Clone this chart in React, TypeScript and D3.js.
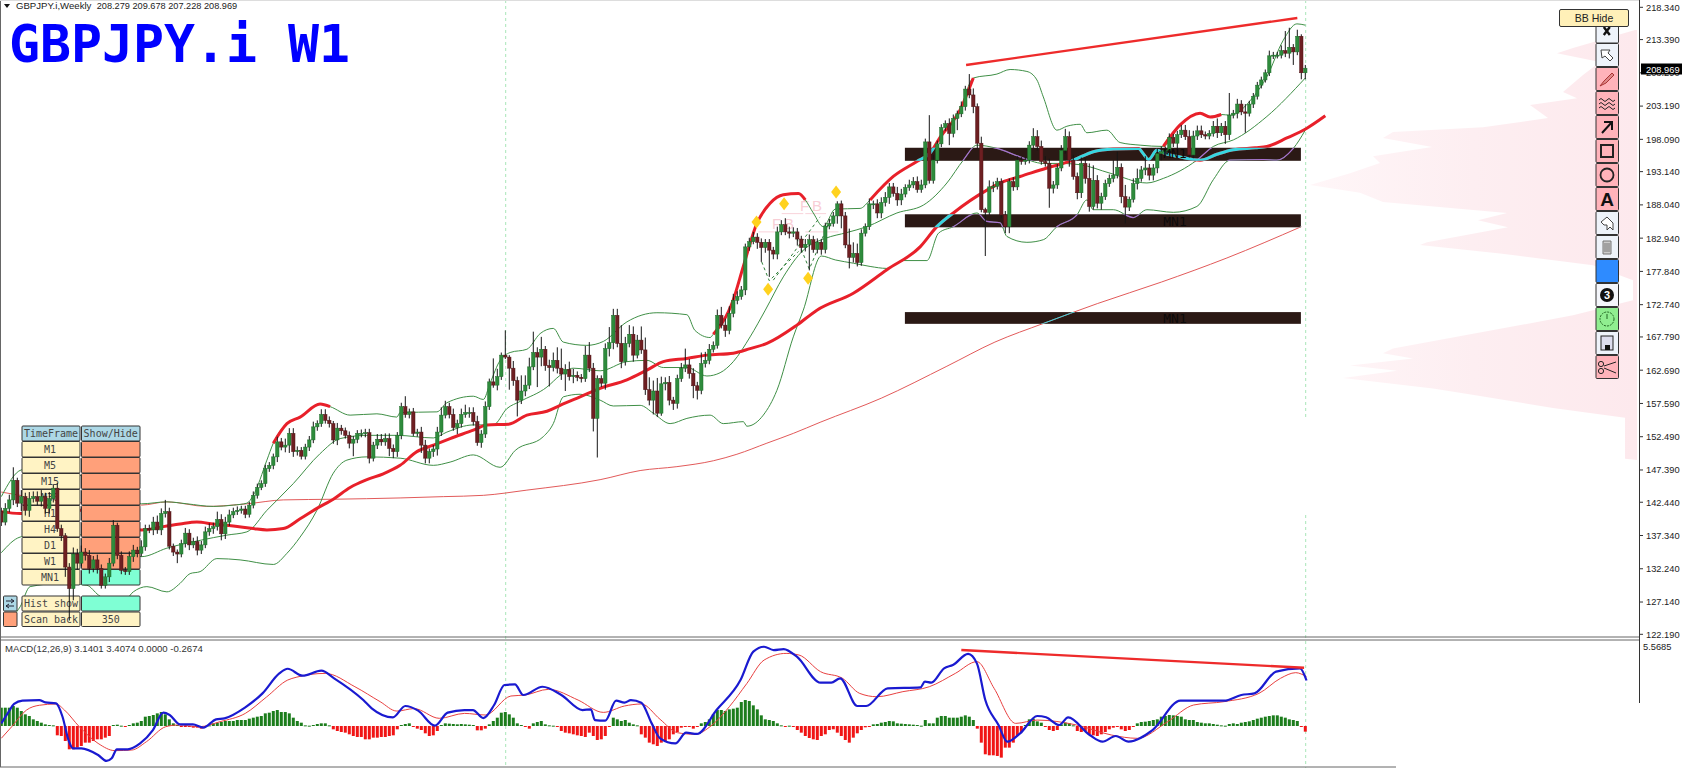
import React from "react";
import * as d3 from "d3";

const closes = [
139.4,141.5,142.8,145.8,142.3,143.3,141.2,143.0,143.3,142.6,
143.3,141.5,143.0,144.6,138.4,137.3,132.5,129.2,134.5,133.1,
134.8,134.3,132.3,133.6,132.3,129.7,131.0,133.1,138.9,134.3,
132.0,131.8,134.1,135.1,134.6,135.6,138.4,138.2,139.4,138.2,
140.7,141.0,135.7,134.8,134.5,136.1,137.7,135.9,136.4,135.1,
135.9,137.9,138.4,138.7,139.8,137.6,139.4,140.5,141.0,141.2,
141.4,140.6,142.0,143.5,144.7,145.3,147.6,148.1,149.4,151.7,
150.9,151.2,153.0,150.2,150.4,149.5,150.9,152.0,154.0,154.5,
155.9,155.0,154.5,152.0,153.8,153.4,152.7,151.5,152.1,153.0,
153.0,153.1,149.2,151.2,152.1,151.7,152.2,150.7,150.2,152.7,
157.1,155.9,156.3,153.0,153.2,
151.2,149.2,150.2,150.6,153.2,155.8,157.1,155.9,153.9,154.5,
155.9,156.2,156.2,154.8,151.6,152.9,157.1,160.9,160.4,161.7,
165.0,164.7,163.0,161.1,158.1,159.5,160.4,163.2,165.4,164.7,
165.9,163.4,163.1,164.2,163.0,162.1,162.8,161.7,161.9,161.6,
161.4,165.0,163.0,155.3,161.4,160.7,166.0,166.9,171.1,166.8,
164.0,166.8,168.2,165.0,167.3,165.8,159.7,158.1,159.5,156.1,
160.6,160.8,158.1,157.6,161.4,163.0,163.5,162.2,160.3,159.6,
163.7,164.2,165.9,166.5,171.1,169.6,168.8,171.4,173.4,174.0,
175.0,181.6,182.4,183.1,182.3,181.5,182.3,181.1,180.5,183.9,
185.0,183.9,183.7,183.9,182.8,181.5,182.0,182.7,181.2,182.3,
181.2,184.8,185.2,186.35,188.2,186.35,181.9,180.0,180.6,179.2,
183.7,184.7,188.2,188.2,186.8,188.4,189.2,190.8,189.8,188.8,
189.7,190.7,191.1,191.6,190.4,191.1,197.7,191.8,194.9,197.4,
199.9,200.5,199.0,201.3,202.0,203.1,205.8,204.9,203.1,197.5,
187.3,186.9,190.8,190.9,191.6,186.5,184.7,191.6,190.8,194.9,
194.7,194.9,197.2,198.5,197.0,194.7,194.4,190.6,191.1,193.7,
196.4,198.5,194.9,192.4,189.9,194.4,192.1,187.8,191.8,188.3,
189.3,191.3,192.1,192.6,193.8,189.3,187.7,188.9,191.3,192.1,
193.4,193.7,192.6,193.7,195.9,196.2,196.4,198.4,197.5,198.8,
199.5,198.5,195.7,198.6,199.4,198.8,198.6,199.0,200.1,199.1,
200.1,198.8,201.8,202.1,203.5,202.3,202.1,203.5,204.7,206.4,
207.2,208.3,210.9,211.0,211.0,211.7,211.3,212.2,211.5,213.9,
208.3,209.0];

const upperWicks = [
.6,.8,.8,2.0,.4,1.0,.6,1.0,.8,.8, 1.0,.6,1.0,.6,.8,.6,.4,.6,1.0,.8,
1.0,.6,.8,.6,.8,.6,.5,.8,.8,.4, .6,.5,.8,.8,.5,1.0,.6,.6,.8,1.0,
.8,1.8,.6,.4,.4,.6,.8,.6,.6,.8, .6,.8,.8,.6,1.2,.8,.8,.8,.6,.6,
.5,.5,.5,.6,.6,.5,.6,.5,.5,.8,.6, 1.0,.8,.8,.6,.5,.5,.6,.8,.5,.8,
.8,.6,.4,.8,.5,.5,.6,.5,.5,.6, .6,.6,.5,.8,.8,.8,.8,.6,.5,.6,
1.6,.5,.6,.5,.8,.8,.5,.6,.8,1.2, .9,.6,.9,.6,.9,1.2,.8,.8,.9,.6,
.8,.5,3.6,1.2,.4,3.8,.3,1.1,.6,2.4, 1.5,1.4,3.2,.8,1.9,.5,.9,1.2,2.0,3.0,
.8,1.2,1.0,.6,.5,1.4,2.0,.8,.5,.5, .8,2.4,1.0,1.0,2.8,1.0,1.4,1.2,.8,2.1,
1.9,1.9,1.6,2.0,1.1,.8,1.0,.5,.6,.8, 2.5,.9,.8,.6,1.7,1.3,.8,.6,.9,1.3,
1.0,1.1,1.0,.8,.6,.5,.6,.8,.6,.6, .5,.5,.5,.8,.7,1.0,.8,.7,.6,.5,
.8,.8,.6,.6,.5,.5,.7,.6,.4,.5, .6,2.5,1.7,1.5,.6,.5,.8,.5,.7,.8,
.8,.6,.6,1.0,.8,.5,.8,.7,.8,.8, .5,4.1,.8,.5,.5,.5,.8,.6,.5,.8,
.5,2.3,1.0,.5,1.0,.3,1.0,.7,.6,.5, .6,.5,.7,.6,.5,.5,.6,1.3,1.0,.9,
.8,.7,.6,.6,.8,1.2,.8,.8,.6,.9, .8,2.3,2.3,.8,.6,.6,.6,2.3,2.4,.6,
1.8,.4,.8,1.5,.6,1.8,.6,.6,.8,.8, .6,.6,.5,.6,.8,.8,1.0,.8,.8,.8,
.5,.5,.8,1.2,.5,.8,3.4,.5,.8,.6, 1.2,.5,.5,.5,.5,.5,.8,.5,.5,.8,
3.0,3.0,.5,1.0,.3,.5];

const lowerWicks = [
.6,.5,.6,.8,.6,1.2,.8,1.0,.6,.6, .8,.8,.8,.6,.5,.8,1.5,4.9,1.8,1.0,
.5,.8,.8,.6,.8,.5,.5,.8,.5,.6, .6,.5,.5,.8,.6,.5,.6,.5,.8,.6,
.8,.6,.5,.6,1.4,.5,.6,.8,.5,.8, .6,.5,.6,.8,.6,1.0,.8,.6,.5,.5,
.5,.6,.5,.5,.5,.4,.5,.5,.6,.8,.5, .8,1.2,.8,.6,.5,.5,.6,.5,.6,.5,
.5,.6,.6,.8,.6,.5,.8,2.0,.6,.6, .6,.8,.5,.6,.6,.6,1.2,1.0,.8,.6,
.5,.6,.4,.5,1.2,.8,.8,.8,1.0,.6, .5,.6,.5,1.0,.6,.5,.8,.6,.5,.8,
.6,.5,.4,.8,.5,.3,3.3,.8,2.5,.6, .8,.6,.5,4.6,1.4,.8,2.9,.6,.8,.9,
2.6,.6,1.0,.6,.6,.5,.6,2.0,6.0,.6, 1.0,1.2,1.0,.6,1.0,.6,.6,1.0,.5,.6,
.8,.8,2.2,.6,.4,1.0,.8,1.0,.8,.5, .6,.8,1.9,1.4,.6,.6,.6,.5,.5,.5,
1.0,.6,.6,.6,.5,.8,.6,.4,1.0,2.2, .8,4.1,.8,.8,.5,.5,.8,.6,1.0,.8,
.6,4.0,.5,.6,.8,.6,.5,.5,1.2,1.9, .5,1.7,.8,.6,.5,.5,.5,.8,.8,.8,
.6,1.0,.5,.9,.8,.5,.5,.5,.5,.5, .5,.5,.5,.5,.5,.5,1.8,.6,1.8,.5,
.6,.5,1.0,.8,.4,6.7,.4,.8,.5,.5, 1.0,1.0,.6,.5,.5,.5,.5,.5,.6,.5,
.5,3.0,.8,.6,.5,.5,1.0,.5,1.0,.8, .8,.8,.5,.8,1.0,.5,.5,.6,.5,1.0,
2.5,.6,.5,.9,.5,.8,.8,.8,.8,1.0, .8,.8,.6,1.0,.5,.5,.4,.5,.6,.5,
.5,.5,.5,.8,.5,1.4,.8,.5,.8,.5, 3.0,.5,.6,.5,.5,.4,.5,.5,.5,.5,
.6,.8,2.0,.5,1.0,1.0];

type P = [number, number];

const bbUpper: P[] = [[0,143.3],[5,147.4],[12,148],[20,146.5],[28,144],[35,142.2],[41.4,142.5],[46.4,142.2],[53,141.8],[58,142],[61.4,142.3],[63,143.5],[66.4,148.9],[68,151.5],[71.4,154.5],[74.7,155.5],[79.7,157.5],[82.2,157.1],[87.2,155.8],[93.9,156],[98.9,155.5],[99.7,156.2],[108.9,156.3],[111.4,157.7],[118,158.7],[120.5,158.2],[122.2,160.7],[124.7,164.2],[127.2,165.4],[131.4,165.9],[134.7,168.3],[138,169.1],[140.5,167],[146.4,166.5],[150.5,167.1],[156.4,170.1],[163.9,171.5],[171.4,171.2],[173.4,168.8],[177.2,167.7],[178,168.2],[183,173.5],[185.5,178.6],[188.9,185.2],[192.2,188.3],[195.5,189.6],[199.3,189.8],[201,188.8],[203,186.8],[205.5,184.7],[208.5,187.4],[214.7,187.5],[217.2,188.8],[223,192.4],[228.9,194.7],[232.2,196],[234.7,198.4],[239.7,202.6],[243,207.5],[248.9,208.1],[252.2,208.8],[256.4,208.5],[258.9,207.2],[260.5,204.6],[263.9,199.5],[266.4,200.1],[269.7,200.4],[271.4,199.1],[276.4,199.5],[279.7,197.6],[284.7,197.2],[290.5,197],[294.7,200.3],[299.7,202.1],[302.2,201.5],[305,201.9],[307.2,201.8],[313,204.6],[316.4,207.7],[320.5,213.3],[323.9,215.8],[326,215.6]];
const bbMiddle: P[] = [[0,134.7],[4.7,137.1],[15,138],[28,135.5],[35.1,134.1],[41.4,135.4],[49.7,136.6],[56.4,137.4],[61.4,137.9],[66.4,141.2],[73,145.3],[79.7,149.9],[84.7,152.2],[91.4,152.7],[98.9,152.7],[108,152.3],[111.4,153.2],[118,154.3],[123,154.3],[126.4,156.8],[129.7,157.9],[136.4,160.1],[139.7,161.9],[143,163],[149.7,162.6],[156.4,164],[161.4,164.2],[165.5,163.1],[171.4,163.1],[176.4,161.8],[179.7,162.3],[183,164],[187.2,167.8],[191,171.9],[195.5,177],[200.5,181.1],[206,182.9],[211.4,183.8],[216.4,184.7],[223.9,186.8],[230.5,188],[236.4,191.4],[240.5,194.9],[243.9,197.2],[248.9,196.7],[254.7,195.4],[260.5,194.4],[264.7,194.4],[269.7,194.2],[277.2,192.9],[286.4,191.4],[290.5,192.1],[298.9,194.9],[303,197],[308,198],[316.4,201.6],[326,207.5]];
const bbLower: P[] = [[3,125],[4.7,126.4],[7.2,129.5],[15,130],[21.4,129.7],[24.3,128.2],[30,126.8],[33,128.7],[36.4,129.5],[41.4,128.7],[44.7,130],[47.2,131.5],[49.7,131.8],[53.9,133.8],[59.7,133.6],[68,132.9],[71.4,134.6],[74.7,137.1],[78.9,141.2],[83,146.9],[86.4,148.9],[91.4,149.4],[99.7,149.2],[108,148.1],[112.2,148.6],[118,149.7],[124.7,147.8],[128.5,150.4],[135.5,152.5],[138,154.5],[140.5,158.6],[144.7,159],[149.7,158.1],[153,157.2],[159.7,157.3],[163,156.1],[167.2,154.5],[171.4,155.3],[177.2,155.8],[180.5,154.5],[185.5,154.8],[186.4,154.1],[190.5,155.8],[193.9,159.6],[198,167.8],[200.5,171.9],[205,180.2],[208.5,179.6],[213,179.1],[217.2,178.6],[221.4,178.3],[225.5,179.5],[231.4,179.5],[234.3,183.7],[238,184.7],[243.9,186.8],[246.4,185.5],[249.7,185.3],[251.4,183.2],[256.4,182.3],[260.5,182.7],[263.9,184.7],[268.9,186.5],[271.4,188.8],[273,187.3],[278,187.3],[283,186.1],[286.4,187.3],[293,186.9],[298.9,187.8],[303,191.9],[307.2,194.9],[315.5,195],[318.9,194.9],[323,196.7],[326,199.5]];
const bbUpperHeavy: P[] = [[68,82.2],[178,201],[217.2,243],[290.5,305]];

const maFast: P[] = [[0,141],[4.7,140.7],[20,141.2],[35.1,138.2],[41.4,138.8],[44.7,139.1],[48.9,139.4],[53,139.1],[58,138.8],[63,138.4],[66.4,138.2],[70.5,138.4],[74.7,139.9],[78.9,141.5],[83,142.9],[87.2,144.7],[91.4,145.9],[95.5,146.8],[99.7,148.1],[103.9,150.2],[108,151.2],[112.2,152.2],[118,153.5],[121.4,154.3],[126.8,154.4],[131.4,155.8],[136.4,156.4],[139.7,157.3],[144.7,158.6],[149.7,159.9],[156.4,161.2],[161.4,162.7],[165.5,164],[171.4,164.5],[176.4,165],[183,165.3],[187.2,166],[191.4,166.8],[198.9,169.6],[203.9,171.9],[213,174.5],[221.4,178.1],[229.7,181.6],[233.9,184.7],[238,186.8],[246.4,190.3],[250.5,191.6],[254.7,192.4],[261.4,193.7],[268,194.9],[273,196.2],[278,196.6],[284.3,196.7],[285.5,195.9],[286.8,195],[288.9,196.4],[291,195.9],[294.7,195.4],[299.7,194.9],[303.9,195.8],[308,196.5],[313.5,196.8],[316.4,197],[321.4,198.3],[326.4,199.8],[331,201.7]];
const maSlow: P[] = [[0,144],[4.7,143.5],[35,142],[41.4,142.5],[51.4,141.8],[61.4,142.2],[70.5,142.8],[83,142.9],[99.7,143.1],[110.5,143.3],[120.5,143.5],[131.4,144.3],[149.7,145.9],[159.7,147.3],[168.9,147.9],[178,148.8],[183.9,149.8],[191.4,151.5],[198,153],[204.7,154.7],[220,158.4],[236.4,163.3],[248.4,167],[260.7,169.9],[274,172.9],[290,176.2],[306.4,179.9],[325,184.7]];

const macdMain: P[] = [[0,.18],[1.6,.87],[3.2,1.52],[5.3,1.75],[9.5,1.79],[11,1.63],[13.7,1.56],[15.3,.64],[16.8,-.97],[17.9,-1.54],[20,-1.54],[24.2,-2],[26.3,-2.41],[27.6,-2.23],[28.9,-1.61],[31.6,-1.61],[34.7,-1.2],[37.9,-.28],[40.5,.92],[42.1,.76],[44.7,.11],[47.9,.11],[50.5,-.11],[53.7,.46],[55.8,.53],[61,1.29],[65.3,2.25],[69.5,3.63],[71.6,3.95],[75.3,3.47],[80,3.82],[83.2,3.29],[90.5,1.79],[92.6,1.22],[97.9,.6],[101,1.38],[104.2,1.06],[108.4,.02],[111.6,.92],[115.8,1.1],[117.9,1.1],[120.5,.55],[123.2,1.45],[125.8,2.83],[128.4,2.87],[130.5,2.14],[135.3,2.71],[140,2.14],[145.3,1.1],[147.4,1.15],[148.4,.41],[151,.37],[153.7,1.75],[155.8,1.61],[157.4,1.79],[160,1.61],[162.6,.18],[164.7,-.85],[168.5,-1.2],[171.2,-.46],[173.9,-.55],[178.8,1.1],[184.8,3.17],[188,5.13],[190.7,5.47],[193.1,5.24],[195.6,5.31],[198.9,4.78],[204.8,2.99],[207.5,2.99],[209.7,3.29],[214,1.38],[216.2,1.38],[221.6,2.6],[229.8,2.67],[230.9,3.06],[232.5,2.99],[235.7,3.98],[237.9,4.21],[241.7,4.97],[243.9,4.32],[246,1.79],[249.3,.07],[251.5,-1.08],[254.7,-.51],[259,.69],[261.2,.6],[264.5,.07],[266.7,.6],[272.1,-.62],[275.3,-1.08],[278.6,-.69],[281.8,-1.08],[287.8,-.28],[294.8,1.75],[299.2,1.75],[305.7,1.75],[310,2.14],[313.3,2.25],[318.7,3.75],[324.7,3.98],[326.3,3.14]];
const macdSignal: P[] = [[0,-.85],[2.6,-.05],[6.3,1.1],[9.5,1.43],[13.7,1.52],[15.8,1.1],[19.5,-.05],[24.2,-1.2],[28.4,-1.7],[32.6,-1.66],[36.3,-1.08],[41.1,-.05],[44.2,.07],[49.5,-.05],[54.7,.3],[61,.87],[66.3,2],[71.6,3.17],[73.7,3.36],[81,3.63],[88.4,2.71],[94.7,1.68],[98.9,1.03],[103.2,1.2],[109.5,.53],[115.8,.87],[121,.76],[127.4,2.07],[131,2.14],[136.8,2.53],[144.2,1.79],[150.5,.94],[155.8,1.38],[160,1.52],[164.7,.46],[169,-.46],[173.4,-.57],[177.7,.07],[182,1.33],[186.4,2.94],[190.7,4.55],[196.2,5.01],[199.4,4.9],[204.8,3.75],[210.3,3.29],[214.6,2.25],[218.9,2.02],[225.4,2.37],[232,2.71],[238.5,3.63],[243.9,4.44],[248.2,2.6],[253.6,.18],[259,.41],[268.8,.07],[277.5,-.62],[284,-.85],[291.6,.3],[298.1,1.45],[305.7,1.68],[314.4,2.25],[319.8,3.29],[323.6,3.68],[326.3,3.4]];
// histogram in hundredths
const macdHist = [
55,55,55,60,55,45,35,30,20,15, 10,5,3,2,-28,-30,-45,-70,-70,-65,
-60,-50,-50,-45,-40,-40,-35,-30,3,4, 1,-2,3,8,10,15,28,30,33,38,
42,35,20,8,3,-3,-3,-3,-5,-5, -8,-3,2,8,10,12,15,15,15,18,
18,18,22,25,28,30,38,40,45,48, 42,42,38,25,15,10,2,1,3,6,
8,8,2,-10,-15,-18,-20,-25,-30,-33, -33,-40,-40,-35,-35,-33,-33,-30,-28,-10,
3,6,8,-3,-8,-12,-22,-30,-28,-15, 3,8,7,6,5,6,5,4,3,-13,
-13,-8,5,15,25,40,42,35,25,8, 3,-3,-8,8,12,15,5,2,1,-3,
-15,-20,-22,-25,-28,-30,-33,-20,-30,-42, -40,-30,-3,25,20,15,18,10,5,2,
-25,-35,-50,-55,-60,-50,-45,-40,-25,-18, -5,-3,-3,-8,-3,8,12,20,35,48,
48,45,50,52,55,72,78,75,62,50, 32,20,18,15,8,2,-2,1,-1,-12,
-20,-30,-36,-40,-42,-30,-25,-12,-10,-20, -30,-42,-50,-35,-22,-12,-4,-1,5,6,
10,12,15,14,8,7,6,5,4,3, 1,18,8,8,25,30,30,25,25,25,
28,32,28,18,-8,-50,-85,-88,-88,-90, -95,-65,-65,-50,-30,-18,3,20,22,14,
10,-3,-12,-15,-12,5,10,8,2,-15, -18,-15,-25,-28,-30,-25,-18,-10,-5,-1,
-10,-15,-12,-3,8,12,13,15,18,20, 28,30,33,32,30,28,20,18,18,12,
10,8,8,6,4,2,1,6,8,6, 10,12,14,18,22,25,28,30,32,32,
28,25,20,18,15,-1,-17];

const priceLabels = ["218.340","213.390","208.290","203.190","198.090","193.140","188.040","182.940","177.840","172.740","167.790","162.690","157.590","152.490","147.390","142.440","137.340","132.240","127.140","122.190"];

const srBoxes = [
  { startBar: 225.9, endBar: 324.9, top: 196.8, bottom: 194.8, label: "" },
  { startBar: 225.9, endBar: 324.9, top: 186.6, bottom: 184.6, label: "MN1" },
  { startBar: 225.9, endBar: 324.9, top: 171.6, bottom: 169.8, label: "MN1" },
];
const trendPrice: P[] = [[241.2,209.5],[324,216.7]];
const trendMacd: P[] = [[240,5.24],[325.7,4.02]];
const diamonds: P[] = [[188.8,185.4],[195.7,188.2],[208.7,190],[191.7,175.1],[201.7,176.8]];
const dashedPaths: P[][] = [
  [[190.1,179.3],[192,176.4],[199.3,180.9]],
  [[193,176.5],[204.7,186.2]],
  [[198.9,182.9],[202,178.2],[207.6,186.3]],
];
const pinkLevels: [number,number,number][] = [[189.3,193.4,183.9],[195.1,200.5,186.7],[201,206.2,186.7],[201,209.3,183.9]];
const profileLevels: P[] = [[214.86,2],[212.1,64],[211.3,80],[209.95,37],[207.96,54],[205.35,74],[204.4,60],[203.35,107],[201.35,89],[199.96,154],[199.2,244],[198.3,254],[196.9,205],[195.5,264],[194.45,257],[192.9,287],[191.1,327],[189.9,277],[188.5,254],[186.8,130],[185.7,159],[184.6,129],[182.3,210],[181.9,217],[180.6,137],[178.8,44],[176.5,4],[173.4,4],[171.1,64],[166,244],[165.3,254],[164.5,224],[163.4,287],[162.6,240],[161.5,294],[159.9,204],[158.8,160],[156.9,84],[155.4,12],[149.1,12],[148.9,0]];
const timeframes = ["M1","M5","M15","M30","H1","H4","D1","W1","MN1"];

const x = d3.scaleLinear().domain([0, 326]).range([1.3, 1305.3]);
const y = d3.scaleLinear().domain([218.34, 122.19]).range([7.3, 634.3]);
const ym = d3.scaleLinear().domain([0, 5.5685]).range([726, 645.3]);
const yh = d3.scaleLinear().domain([0, 100]).range([726, 692.7]);

const priceLine = d3.line<P>().x(d => x(d[0])).y(d => y(d[1])).curve(d3.curveMonotoneX);
const macdLine = d3.line<P>().x(d => x(d[0])).y(d => ym(d[1])).curve(d3.curveMonotoneX);
const straight = d3.line<P>().x(d => x(d[0])).y(d => y(d[1]));
const profileArea = d3.area<P>().y(d => y(d[0])).x0(1637).x1(d => 1637 - d[1]);

const MONO = "'DejaVu Sans Mono', monospace";
const UI = "'Liberation Sans', sans-serif";
const GREEN = "#3f8f46";
const PURPLE = "#a96fd0";
const CYAN = "#37d6e0";

function ToolIcon({ i }: { i: number }) {
  const stroke = "#222";
  switch (i) {
    case 0: return <path d="M-3,-4L3,4M3,-4L-3,4" stroke="#111" strokeWidth={2.4} fill="none" />;
    case 1: return <path d="M-6,-5L3,-5L1,-2L6,3L3,6L-2,1L-5,3Z" stroke="#444" fill="#fff" strokeWidth={1} />;
    case 2: return <path d="M-7,7L-3,2L5,-6L7,-4L-1,4Z" stroke="#a33" fill="#d88" strokeWidth={1} />;
    case 3: return <path d="M-8,-3q2,-3 4,0t4,0t4,0t4,0M-8,1q2,-3 4,0t4,0t4,0t4,0M-8,5q2,-3 4,0t4,0t4,0t4,0" stroke={stroke} fill="none" strokeWidth={1} />;
    case 4: return <path d="M-5,6L5,-5M-3,-5L5,-5L5,3" stroke="#111" fill="none" strokeWidth={2} />;
    case 5: return <rect x={-6} y={-6} width={12} height={12} fill="none" stroke="#222" strokeWidth={2} />;
    case 6: return <circle r={6.5} fill="none" stroke="#222" strokeWidth={1.8} />;
    case 7: return <text textAnchor="middle" y={7} fontFamily={UI} fontWeight={700} fontSize={19} fill="#111">A</text>;
    case 8: return <path d="M-6,-1L0,-6L6,0L6,7L3,4L0,7L0,2L-3,2Z" stroke="#444" fill="#fff" strokeWidth={1} />;
    case 9: return <path d="M-4,-6H4V7H-4ZM-2,-4V5M0,-4V5M2,-4V5" stroke="#777" fill="#ccc" strokeWidth={1} />;
    case 11: return <g><circle r={7} fill="#111" /><text textAnchor="middle" y={4} fontFamily={UI} fontWeight={700} fontSize={11} fill="#fff">3</text></g>;
    case 12: return <g><circle r={7} fill="none" stroke="#226622" strokeDasharray="2 1" /><path d="M0,0V-5" stroke="#226622" /></g>;
    case 13: return <g><rect x={-6} y={-7} width={12} height={14} fill="#dde" stroke="#222" /><rect x={-2} y={2} width={5} height={5} fill="#111" /></g>;
    case 14: return <g fill="none" stroke="#222"><path d="M-3,-1L9,-5M-3,1L9,6" /><circle cx={-6} cy={-3} r={2.6} /><circle cx={-6} cy={4} r={2.6} /></g>;
    default: return null;
  }
}
const toolFill = ["#eef3fa","#eef3fa","#ffb3ba","#ffb3ba","#ffb3ba","#ffb3ba","#ffb3ba","#ffb3ba","#eef3fa","#eef3fa","#2e8bff","#f4f6fb","#90ee90","#eef3fa","#ffb3ba"];

export default function App() {
  const heavy = bbUpperHeavy.map(([a, b]) => bbUpper.filter(d => d[0] >= a && d[0] <= b));
  const boxRects = srBoxes.map(b => ({ x: x(b.startBar), w: x(b.endBar) - x(b.startBar), y: y(b.top), h: y(b.bottom) - y(b.top), label: b.label }));
  const upperPath = priceLine(bbUpper)!;
  const middlePath = priceLine(bbMiddle)!;
  const lowerPath = priceLine(bbLower)!;
  const fastPath = priceLine(maFast)!;
  const slowPath = priceLine(maSlow)!;
  return (
    <svg width={1687} height={768} style={{ position: "absolute", left: 0, top: 0, display: "block", background: "#fff" }}>
      <defs>
        <clipPath id="boxes">{boxRects.map((b, i) => <rect key={i} x={b.x} y={b.y} width={b.w} height={b.h} />)}</clipPath>
        <clipPath id="mainPane"><rect x={0} y={0} width={1639} height={636} /></clipPath>
        <linearGradient id="prof" x1="0" x2="1" y1="0" y2="0">
          <stop offset="0" stopColor="#fff6f8" />
          <stop offset="0.5" stopColor="#fdeef1" />
          <stop offset="1" stopColor="#fde9ed" />
        </linearGradient>
      </defs>

      {/* volume profile */}
      <path d={profileArea(profileLevels)!} fill="url(#prof)" />

      {/* separators vertical */}
      {[505.7, 1305.7].map((vx, i) => (
        <g key={i} stroke="#a8e6b8" strokeWidth={1} strokeDasharray="3 3">
          <line x1={vx} x2={vx} y1={0} y2={i === 1 ? 419 : 768} />
          {i === 1 && <line x1={vx} x2={vx} y1={515} y2={768} />}
        </g>
      ))}

      {/* S/R boxes */}
      {boxRects.map((b, i) => <rect key={i} x={b.x} y={b.y} width={b.w} height={b.h} fill="#2b1915" />)}

      {/* pink F B marks */}
      {pinkLevels.map((l, i) => <line key={i} x1={x(l[0])} x2={x(l[1])} y1={y(l[2])} y2={y(l[2])} stroke="#f9d3da" strokeWidth={1} />)}
      <g fontFamily={UI} fontSize={15} fill="#f8ced6">
        <text x={772} y={229}>F</text><text x={784} y={229}>B</text>
        <text x={800} y={211}>F</text><text x={812} y={211}>B</text>
      </g>

      <g clipPath="url(#mainPane)">
        {/* thin lines */}
        <path d={slowPath} fill="none" stroke="#e25a5a" strokeWidth={1} />
        <path d={upperPath} fill="none" stroke={GREEN} strokeWidth={1} />
        <path d={middlePath} fill="none" stroke={GREEN} strokeWidth={1} />
        <path d={lowerPath} fill="none" stroke={GREEN} strokeWidth={1} />
        <path d={fastPath} fill="none" stroke="#e8202a" strokeWidth={3} />
        {heavy.map((h, i) => <path key={i} d={priceLine(h)!} fill="none" stroke="#e8202a" strokeWidth={3} />)}
        <g clipPath="url(#boxes)">
          <path d={middlePath} fill="none" stroke={PURPLE} strokeWidth={1.2} />
          <path d={lowerPath} fill="none" stroke={PURPLE} strokeWidth={1.2} />
          <path d={upperPath} fill="none" stroke={PURPLE} strokeWidth={1.2} />
          <path d={slowPath} fill="none" stroke={CYAN} strokeWidth={1} />
          <path d={fastPath} fill="none" stroke={CYAN} strokeWidth={3} />
          {heavy.map((h, i) => <path key={i} d={priceLine(h)!} fill="none" stroke={CYAN} strokeWidth={3} />)}
        </g>
      </g>

      {/* timeframe panel */}
      <g fontFamily={MONO} fontSize={10} fill="#444" stroke="none">
        <rect x={22} y={426} width={58} height={15} fill="#add8e6" stroke="#333" rx={1} />
        <rect x={81.5} y={426} width={58.5} height={15} fill="#add8e6" stroke="#333" rx={1} />
        <text x={51} y={437} textAnchor="middle">TimeFrame</text>
        <text x={110.7} y={437} textAnchor="middle">Show/Hide</text>
        {timeframes.map((t, i) => (
          <g key={t}>
            <rect x={22} y={441.5 + 16 * i} width={58} height={15.5} fill="#fff3c4" stroke="#333" rx={1} />
            <rect x={81.5} y={441.5 + 16 * i} width={58.5} height={15.5} fill={t === "MN1" ? "#7fffd4" : "#ffa07a"} stroke="#333" rx={1} />
            <text x={50} y={453 + 16 * i} textAnchor="middle">{t}</text>
          </g>
        ))}
        <rect x={22} y={596} width={58} height={15} fill="#fff3c4" stroke="#333" rx={1} />
        <rect x={81.5} y={596} width={58.5} height={15} fill="#7fffd4" stroke="#333" rx={1} />
        <text x={51} y={607} textAnchor="middle">Hist show</text>
        <rect x={22} y={612} width={58} height={14.5} fill="#fff3c4" stroke="#333" rx={1} />
        <rect x={81.5} y={612} width={58.5} height={14.5} fill="#fff3c4" stroke="#333" rx={1} />
        <text x={51} y={623} textAnchor="middle">Scan back</text>
        <text x={110.7} y={623} textAnchor="middle">350</text>
        <rect x={3.5} y={596} width={13.5} height={15} fill="#add8e6" stroke="#333" rx={1} />
        <path d="M6,601H14M6,606H14M11,599L14,601L11,603M9,604L6,606L9,608" stroke="#223" fill="none" />
        <rect x={3.5} y={612} width={13.5} height={14.5} fill="#ffa07a" stroke="#333" rx={1} />
      </g>

      {/* dashed pattern lines */}
      {dashedPaths.map((p, i) => <path key={i} d={straight(p)!} fill="none" stroke="#2f7f3a" strokeDasharray="3 3" strokeWidth={1} />)}

      {/* candles */}
      <g clipPath="url(#mainPane)">
        {closes.map((c, i) => {
          const o = i === 0 ? 141 : closes[i - 1];
          const up = c >= o;
          const hi = Math.max(o, c) + (upperWicks[i] ?? 0);
          const lo = Math.min(o, c) - (lowerWicks[i] ?? 0);
          const cx = x(i);
          const top = y(Math.max(o, c));
          const h = Math.max(1, y(Math.min(o, c)) - top);
          return (
            <g key={i}>
              <line x1={cx} x2={cx} y1={y(hi)} y2={y(lo)} stroke="#161616" strokeWidth={1} />
              <rect x={cx - 1.7} y={top} width={3.4} height={h} fill={up ? "#2e8b3c" : "#6e1f22"} stroke={up ? "#1f6d2a" : "#4e1416"} strokeWidth={0.5} />
            </g>
          );
        })}
      </g>

      {/* MN1 labels */}
      <g fontFamily={MONO} fontSize={13} fill="#0c0a0a" textAnchor="middle">
        <text x={1175} y={158}>MN1</text>
        {boxRects.filter(b => b.label).map((b, i) => <text key={i} x={1175} y={b.y + b.h / 2 + 5}>{b.label}</text>)}
      </g>

      {/* diamonds */}
      {diamonds.map((d, i) => {
        const cx = x(d[0]); const cy = y(d[1]);
        return <path key={i} d={`M${cx},${cy - 6.5}L${cx + 5},${cy}L${cx},${cy + 6.5}L${cx - 5},${cy}Z`} fill="#ffd21e" />;
      })}

      {/* trend lines */}
      <path d={straight(trendPrice)!} stroke="#ee2b2b" strokeWidth={2.4} fill="none" />

      {/* MACD */}
      {macdHist.map((v, i) => {
        const yy = yh(v);
        return <rect key={i} x={x(i) - 1.5} y={Math.min(yy, 726)} width={3} height={Math.max(1, Math.abs(yy - 726))} fill={v >= 0 ? "#1c7d1c" : "#f01515"} />;
      })}
      <path d={macdLine(macdSignal)!} fill="none" stroke="#e84040" strokeWidth={1} />
      <path d={macdLine(macdMain)!} fill="none" stroke="#1a1ad0" strokeWidth={2.2} />
      <path d={d3.line<P>().x(d => x(d[0])).y(d => ym(d[1]))(trendMacd)!} stroke="#ee2b2b" strokeWidth={2.4} fill="none" />
      <text x={5} y={652} fontFamily={UI} fontSize={9.6} fill="#333">MACD(12,26,9) 3.1401 3.4074 0.0000 -0.2674</text>

      {/* frame */}
      <line x1={0.5} x2={0.5} y1={0} y2={767} stroke="#666" />
      <line x1={0} x2={1640} y1={0.5} y2={0.5} stroke="#ddd" />
      <line x1={0} x2={1639} y1={637} y2={637} stroke="#666" />
      <line x1={0} x2={1639} y1={640} y2={640} stroke="#666" />
      <line x1={0} x2={1396} y1={767} y2={767} stroke="#666" />
      <line x1={1639.5} x2={1639.5} y1={0} y2={703} stroke="#333" />

      {/* axis */}
      <g fontFamily={UI} fontSize={9.3} fill="#222">
        {priceLabels.map(l => {
          const yy = y(+l);
          return <g key={l}><line x1={1640} x2={1643} y1={yy} y2={yy} stroke="#333" /><text x={1646} y={yy + 3.4}>{l}</text></g>;
        })}
        <rect x={1641} y={63.5} width={41} height={11} fill="#000" />
        <text x={1646} y={72.5} fill="#fff">208.969</text>
        <text x={1643} y={650}>5.5685</text>
      </g>

      {/* toolbar */}
      <g>
        <rect x={1596} y={26} width={22.5} height={17} fill="#eef3fa" stroke="#333" rx={1} />
        <g transform="translate(1606.8,31)"><ToolIcon i={0} /></g>
        {toolFill.slice(1).map((f, i) => (
          <g key={i}>
            <rect x={1596} y={43.5 + 24 * i} width={22.5} height={23} fill={f} stroke="#333" rx={1} />
            <g transform={`translate(1607,${55 + 24 * i})`}><ToolIcon i={i + 1} /></g>
          </g>
        ))}
      </g>
      <rect x={1559.5} y={9.5} width={69} height={17} fill="#fff0b8" stroke="#333" rx={1.5} />
      <text x={1594} y={22} textAnchor="middle" fontFamily={UI} fontSize={10.5} fill="#222">BB Hide</text>

      {/* titles */}
      <text x={9} y={62} fontFamily={MONO} fontWeight={700} fontSize={51.5} fill="#0000ff">GBPJPY.i W1</text>
      <path d="M4,4H10L7,8Z" fill="#111" />
      <text x={16} y={9} fontFamily={UI} fontSize={9.6} fill="#222">GBPJPY.i,Weekly</text>
      <text x={96.7} y={9} fontFamily={UI} fontSize={9.2} fill="#222">208.279 209.678 207.228 208.969</text>
    </svg>
  );
}
